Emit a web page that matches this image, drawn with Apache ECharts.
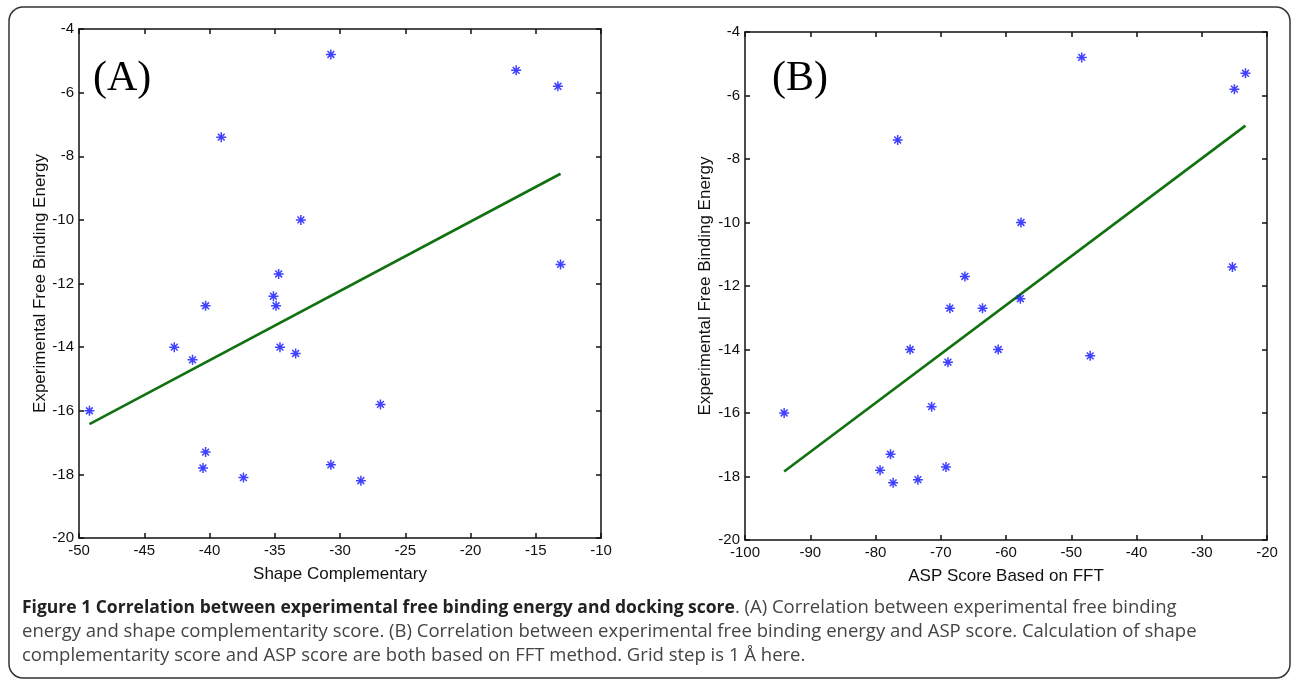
<!DOCTYPE html>
<html>
<head>
<meta charset="utf-8">
<title>Figure 1</title>
<script src="https://cdn.jsdelivr.net/npm/echarts@6/dist/echarts.min.js"></script>
<style>
  html, body { margin: 0; padding: 0; background: #fff; }
  #chart { width: 1293px; height: 683px; }
</style>
</head>
<body>
<div id="chart"></div>
<script>
// panel A: shape complementarity vs experimental free binding energy
var shapeScore = [-49.2, -42.7, -41.3, -40.3, -40.3, -40.5, -39.1, -37.4, -35.1, -34.9, -34.7,
                  -34.6, -33.4, -33.0, -30.7, -30.7, -28.4, -26.9, -16.5, -13.3, -13.1];
var energyA = [-16.0, -14.0, -14.4, -12.7, -17.3, -17.8, -7.4, -18.1, -12.4, -12.7, -11.7,
               -14.0, -14.2, -10.0, -4.8, -17.7, -18.2, -15.8, -5.3, -5.8, -11.4];
var fitLineAX = [-49.2, -13.1];
var fitLineAY = [-16.42, -8.55];

// panel B: ASP score vs experimental free binding energy
var aspScore = [-94.0, -79.3, -77.7, -77.3, -73.5, -74.7, -71.4, -69.2, -68.9, -68.6, -63.6,
                -61.2, -57.8, -47.1, -76.6, -66.3, -57.7, -48.4, -25.3, -25.0, -23.3];
var energyB = [-16.0, -17.8, -17.3, -18.2, -18.1, -14.0, -15.8, -17.7, -14.4, -12.7, -12.7,
               -14.0, -12.4, -14.2, -7.4, -11.7, -10.0, -4.8, -11.4, -5.8, -5.3];
var fitLineBX = [-94.0, -23.3];
var fitLineBY = [-17.84, -6.95];

var panelLabels = ['(A)', '(B)'];
var xAxisNames = ['Shape Complementary', 'ASP Score Based on FFT'];
var yAxisName = 'Experimental Free Binding Energy';

var captionBold = 'Figure 1 Correlation between experimental free binding energy and docking score';
var captionLines = [
  '. (A) Correlation between experimental free binding',
  'energy and shape complementarity score. (B) Correlation between experimental free binding energy and ASP score. Calculation of shape',
  'complementarity score and ASP score are both based on FFT method. Grid step is 1 \u00C5 here.'
];

function zip(xs, ys) {
  var out = [];
  for (var i = 0; i < xs.length; i++) out.push([xs[i], ys[i]]);
  return out;
}

var AXIS_FONT = '"Liberation Sans", Arial, sans-serif';
var CAPTION_FONT = '"Open Sans", sans-serif';
var STAR = 'path://M5,0L5,10M0,5L10,5M1.6,1.6L8.4,8.4M8.4,1.6L1.6,8.4';

var lineStyle = { color: '#111', width: 1.5 };

// bottom / top x axes for one grid (matlab box with inward ticks)
function xAxes(gridIndex, min, max, interval, name) {
  return [{
    type: 'value', gridIndex: gridIndex, position: 'bottom',
    min: min, max: max, interval: interval,
    name: name, nameLocation: 'middle', nameGap: 28,
    nameTextStyle: { fontFamily: AXIS_FONT, fontSize: 17, color: '#111' },
    axisLine: { show: true, lineStyle: lineStyle },
    axisTick: { show: true, inside: true, length: 5, lineStyle: lineStyle },
    axisLabel: { fontFamily: AXIS_FONT, fontSize: 15, color: '#111', margin: 5, showMinLabel: true, showMaxLabel: true },
    splitLine: { show: false }
  }, {
    type: 'value', gridIndex: gridIndex, position: 'top',
    min: min, max: max, interval: interval,
    axisLine: { show: true, lineStyle: lineStyle },
    axisTick: { show: true, inside: true, length: 5, lineStyle: lineStyle },
    axisLabel: { show: false },
    splitLine: { show: false }
  }];
}

function yAxes(gridIndex, nameGap) {
  return [{
    type: 'value', gridIndex: gridIndex, position: 'left',
    min: -20, max: -4, interval: 2,
    name: yAxisName, nameLocation: 'middle', nameGap: nameGap,
    nameTextStyle: { fontFamily: AXIS_FONT, fontSize: 17, color: '#111' },
    axisLine: { show: true, lineStyle: lineStyle },
    axisTick: { show: true, inside: true, length: 5, lineStyle: lineStyle },
    axisLabel: { fontFamily: AXIS_FONT, fontSize: 15, color: '#111', margin: 5, showMinLabel: true, showMaxLabel: true },
    splitLine: { show: false }
  }, {
    type: 'value', gridIndex: gridIndex, position: 'right',
    min: -20, max: -4, interval: 2,
    axisLine: { show: true, lineStyle: lineStyle },
    axisTick: { show: true, inside: true, length: 5, lineStyle: lineStyle },
    axisLabel: { show: false },
    splitLine: { show: false }
  }];
}

function scatterSeries(xIndex, yIndex, data) {
  return {
    type: 'scatter', xAxisIndex: xIndex, yAxisIndex: yIndex,
    symbol: STAR, symbolSize: 10,
    itemStyle: { color: 'rgba(0,0,0,0)', borderColor: '#1010ff', borderWidth: 1.5 },
    emphasis: { disabled: true },
    data: data, z: 3
  };
}

function fitSeries(xIndex, yIndex, data) {
  return {
    type: 'line', xAxisIndex: xIndex, yAxisIndex: yIndex,
    showSymbol: false, silent: true,
    lineStyle: { color: '#0f720f', width: 2.6 },
    data: data, z: 2
  };
}

var chart = echarts.init(document.getElementById('chart'), null, { renderer: 'canvas' });

var option = {
  animation: false,
  backgroundColor: '#fff',
  grid: [
    { left: 79, top: 29, width: 522, height: 509 },
    { left: 745, top: 32, width: 522, height: 508 }
  ],
  xAxis: xAxes(0, -50, -10, 5, xAxisNames[0]).concat(xAxes(1, -100, -20, 10, xAxisNames[1])),
  yAxis: yAxes(0, 30).concat(yAxes(1, 31)),
  series: [
    fitSeries(0, 0, zip(fitLineAX, fitLineAY)),
    scatterSeries(0, 0, zip(shapeScore, energyA)),
    fitSeries(2, 2, zip(fitLineBX, fitLineBY)),
    scatterSeries(2, 2, zip(aspScore, energyB))
  ],
  graphic: [
    {
      type: 'rect', silent: true,
      shape: { x: 9, y: 7, width: 1281, height: 671, r: 14 },
      style: { fill: 'none', stroke: '#333', lineWidth: 1.5 }
    },
    {
      type: 'text', left: 93, top: 58,
      style: { text: panelLabels[0], font: '42px "Liberation Serif", "Times New Roman", serif', fill: '#000' }
    },
    {
      type: 'text', left: 772, top: 58,
      style: { text: panelLabels[1], font: '42px "Liberation Serif", "Times New Roman", serif', fill: '#000' }
    },
    // caption, one element per printed line
    {
      type: 'text', x: 22, y: 608,
      style: {
        text: '{b|' + captionBold + '}{r|' + captionLines[0] + '}',
        verticalAlign: 'middle',
        rich: {
          b: { fontFamily: CAPTION_FONT, fontWeight: 'bold', fontSize: 17.5, fill: '#222' },
          r: { fontFamily: CAPTION_FONT, fontSize: 18.5, fill: '#444' }
        }
      }
    },
    {
      type: 'text', x: 22, y: 632,
      style: { text: captionLines[1], font: '18.5px ' + CAPTION_FONT, fill: '#444', verticalAlign: 'middle' }
    },
    {
      type: 'text', x: 22, y: 656,
      style: { text: captionLines[2], font: '18.5px ' + CAPTION_FONT, fill: '#444', verticalAlign: 'middle' }
    }
  ]
};

chart.setOption(option);
</script>
</body>
</html>
